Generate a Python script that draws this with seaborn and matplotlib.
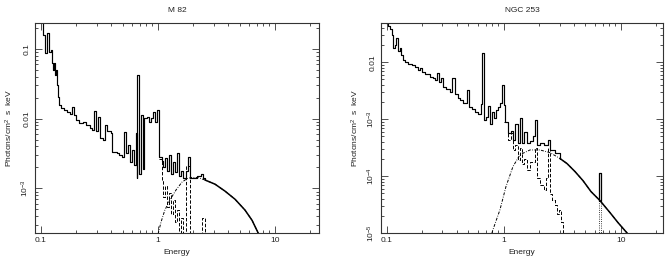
import numpy as np
import matplotlib
matplotlib.use('Agg')
import matplotlib.pyplot as plt
import seaborn as sns
from matplotlib.ticker import FixedLocator, FixedFormatter, LogLocator, NullFormatter

sns.set_style('ticks')
plt.rcParams['font.family'] = ['Liberation Sans', 'DejaVu Sans']
plt.rcParams['mathtext.default'] = 'regular'
plt.rcParams['font.size'] = 6

# ---- M 82 ----
m82_total_e = [0.088, 0.105, 0.109, 0.113, 0.118, 0.122, 0.125, 0.127, 0.130, 0.132,
               0.136, 0.139, 0.141, 0.143, 0.149, 0.158, 0.168, 0.178, 0.185, 0.193,
               0.200, 0.212, 0.230, 0.244, 0.264, 0.274, 0.286, 0.297, 0.309, 0.321,
               0.341, 0.353, 0.369, 0.399, 0.407, 0.449, 0.466, 0.495, 0.515, 0.536,
               0.557, 0.579, 0.602, 0.626, 0.646, 0.659, 0.668, 0.685, 0.713, 0.741,
               0.764, 0.810, 0.843, 0.877, 0.912, 0.948, 0.987, 1.026, 1.08, 1.11,
               1.15, 1.20, 1.25, 1.30, 1.35, 1.41, 1.46, 1.52, 1.58, 1.65,
               1.75, 1.82, 1.89, 2.17, 2.34, 2.44, 2.54]
m82_total_f = [0.25, 0.155, 0.0857, 0.166, 0.0885, 0.0946, 0.0617, 0.049, 0.0617, 0.0415,
               0.049, 0.0299, 0.0201, 0.0155, 0.014, 0.0131, 0.0123, 0.0115, 0.0145, 0.0111,
               0.0095, 0.0087, 0.0090, 0.0080, 0.0073, 0.0068, 0.0130, 0.0066, 0.0104, 0.0052,
               0.0049, 0.0080, 0.0066, 0.0062, 0.0033, 0.0032, 0.0030, 0.0028, 0.0064, 0.0032,
               0.0042, 0.0024, 0.0035, 0.0022, 0.0062, 0.0014, 0.042, 0.0016, 0.0111, 0.0019,
               0.0101, 0.0104, 0.0089, 0.0101, 0.0123, 0.0089, 0.0131, 0.0028, 0.0025, 0.0020,
               0.0027, 0.0018, 0.0030, 0.0016, 0.0024, 0.0017, 0.0032, 0.0015, 0.0018, 0.0014,
               0.0018, 0.0028, 0.0014, 0.0015, 0.0016, 0.0014, 0.00132]

m82_cont_e = [0.985, 1.01, 1.067, 1.15, 1.27, 1.43, 1.61, 1.78, 1.96, 2.21, 2.54,
              3.09, 3.76, 4.58, 5.57, 6.40, 7.24, 7.79]
m82_cont_f = [1.8e-4, 2.28e-4, 3.3e-4, 4.9e-4, 6.8e-4, 9.46e-4, 1.23e-3, 1.38e-3, 1.44e-3,
              1.43e-3, 1.32e-3, 1.15e-3, 9.15e-4, 7.0e-4, 4.9e-4, 3.5e-4, 2.28e-4, 1.7e-4]

m82_therm_e = [1.026, 1.08, 1.11, 1.15, 1.20, 1.25, 1.30, 1.35, 1.41, 1.46, 1.52, 1.58,
               1.65, 1.75, 1.89, 2.39, 2.54]
m82_therm_f = [0.0026, 0.00127, 0.00076, 0.00108, 0.00055, 0.00086, 0.00043, 0.00068,
               0.00033, 0.00049, 0.00018, 0.00038, 0.00018, 0.0021, 0.00018, 0.00038, 0.00018]

# ---- NGC 253 ----
ngc_total_e = [0.088, 0.0986, 0.1026, 0.1067, 0.110, 0.113, 0.118, 0.121, 0.125, 0.130,
               0.132, 0.138, 0.143, 0.152, 0.164, 0.175, 0.185, 0.193, 0.200, 0.213,
               0.235, 0.249, 0.259, 0.269, 0.280, 0.291, 0.303, 0.321, 0.348, 0.362,
               0.384, 0.407, 0.423, 0.449, 0.486, 0.505, 0.536, 0.569, 0.603, 0.640,
               0.659, 0.679, 0.706, 0.735, 0.764, 0.794, 0.826, 0.859, 0.893, 0.930,
               0.967, 1.006, 1.026, 1.09, 1.15, 1.20, 1.25, 1.32, 1.38, 1.43,
               1.49, 1.58, 1.68, 1.78, 1.85, 1.93, 2.04, 2.21, 2.39, 2.49,
               2.74, 3.03]
ngc_total_f = [0.06, 0.0497, 0.044, 0.039, 0.0306, 0.0181, 0.0205, 0.0271, 0.0160, 0.0181,
               0.0137, 0.0111, 0.0103, 0.0095, 0.0091, 0.0084, 0.00745, 0.0081, 0.00687, 0.00634,
               0.00561, 0.00539, 0.00497, 0.0066, 0.00458, 0.00539, 0.00375, 0.00346, 0.00306, 0.00539,
               0.00282, 0.0024, 0.00222, 0.00196, 0.00332, 0.00167, 0.00154, 0.00136, 0.00126, 0.00189,
               0.0148, 0.00099, 0.00111, 0.00174, 0.00084, 0.00136, 0.00107, 0.00148, 0.00167, 0.00196,
               0.00406, 0.00181, 0.00088, 0.00058, 0.00063, 0.00044, 0.00084, 0.00039, 0.00107, 0.00039,
               0.00061, 0.00039, 0.00042, 0.00050, 0.00099, 0.00036, 0.00039, 0.00035, 0.00044, 0.00029,
               0.00026, 0.000205]

ngc_cont_e = [0.764, 0.810, 0.930, 1.046, 1.20, 1.38, 1.68, 2.04, 2.49, 3.03, 3.48,
              4.07, 4.76, 5.57, 6.65, 8.11, 9.48, 11.25, 12.5]
ngc_cont_f = [7.8e-6, 1.16e-5, 2.6e-5, 6.6e-5, 1.48e-4, 2.4e-4, 2.9e-4, 2.9e-4, 2.6e-4,
              2.05e-4, 1.67e-4, 1.21e-4, 8.4e-5, 5.4e-5, 3.75e-5, 2.3e-5, 1.54e-5, 1.03e-5, 7.8e-6]

ngc_therm_e = [1.006, 1.09, 1.15, 1.20, 1.25, 1.32, 1.38, 1.43, 1.49, 1.58, 1.68, 1.85,
               1.93, 2.04, 2.21, 2.30, 2.39, 2.49, 2.59, 2.74, 2.85, 2.97, 3.09, 3.21]
ngc_therm_f = [0.0009, 0.00044, 0.00058, 0.00029, 0.00035, 0.000196, 0.00032, 0.000167,
               0.000205, 0.00013, 0.00018, 0.00032, 0.000095, 7.1e-5, 5.8e-5, 9.5e-5,
               0.00032, 4.8e-5, 3.9e-5, 3.2e-5, 2.2e-5, 2.6e-5, 1.6e-5, 7.8e-6]

# iron line at 6.7 keV
ngc_fe_e = [6.55, 6.55, 6.85, 6.85]
ngc_fe_total = [3.7e-5, 1.16e-4, 1.16e-4, 3.7e-5]
ngc_fe_comp = [5e-6, 3.7e-5, 3.7e-5, 5e-6]

line_kw = dict(estimator=None, sort=False, legend=False, color='black')
dashdot = (0, (3, 1.5, 0.8, 1.5))
dashed = (0, (3.5, 1.8))


def style_axes(ax, xlim, ylim, yticks, ylabels, title):
    ax.set_xscale('log')
    ax.set_yscale('log')
    ax.set_xlim(*xlim)
    ax.set_ylim(*ylim)
    ax.xaxis.set_major_locator(FixedLocator([0.1, 1, 10]))
    ax.xaxis.set_major_formatter(FixedFormatter(['0.1', '1', '10']))
    ax.xaxis.set_minor_locator(LogLocator(base=10, subs=np.arange(2, 10), numticks=20))
    ax.xaxis.set_minor_formatter(NullFormatter())
    ax.yaxis.set_major_locator(FixedLocator(yticks))
    ax.yaxis.set_major_formatter(FixedFormatter(ylabels))
    ax.yaxis.set_minor_locator(LogLocator(base=10, subs=np.arange(2, 10), numticks=20))
    ax.yaxis.set_minor_formatter(NullFormatter())
    ax.tick_params(which='both', direction='in', top=True, right=True,
                   width=0.6, color='#333333', labelsize=6, labelcolor='#222222')
    ax.tick_params(which='major', length=5)
    ax.tick_params(which='minor', length=2.5)
    ax.tick_params(axis='x', pad=3)
    ax.tick_params(axis='y', labelrotation=90, pad=3)
    for lab in ax.get_yticklabels():
        lab.set_va('center')
    for sp in ax.spines.values():
        sp.set_linewidth(0.8)
        sp.set_color('#333333')
    ax.set_xlabel('Energy', fontsize=6, labelpad=3, color='#222222')
    ax.set_ylabel('Photons/cm$^2$  s  keV', fontsize=6, labelpad=3, color='#222222')
    ax.set_title(title, fontsize=6, pad=8, color='#222222')


fig = plt.figure(figsize=(6.66, 2.6), dpi=100)
ax1 = fig.add_axes([0.0526, 0.1027, 0.4264, 0.807])
ax2 = fig.add_axes([0.5716, 0.1027, 0.4246, 0.807])

style_axes(ax1, (0.0894, 23.9), (2.28e-4, 0.23), [1e-3, 0.01, 0.1],
           ['10$^{-3}$', '0.01', '0.1'], 'M 82')
style_axes(ax2, (0.0889, 23.2), (1e-5, 0.048), [1e-5, 1e-4, 1e-3, 0.01],
           ['10$^{-5}$', '10$^{-4}$', '10$^{-3}$', '0.01'], 'NGC 253')

# M 82 panel
sns.lineplot(x=m82_cont_e, y=m82_cont_f, ax=ax1, lw=0.7, linestyle=dashdot, **line_kw)
sns.lineplot(x=m82_therm_e, y=m82_therm_f, ax=ax1, lw=0.7, linestyle=dashed,
             drawstyle='steps-post', **line_kw)
sns.lineplot(x=m82_total_e, y=m82_total_f, ax=ax1, lw=0.85, drawstyle='steps-post', **line_kw)
tail1 = [(e, f) for e, f in zip(m82_cont_e, m82_cont_f) if e >= 2.54]
sns.lineplot(x=[t[0] for t in tail1], y=[t[1] for t in tail1], ax=ax1, lw=1.1, **line_kw)

# NGC 253 panel
sns.lineplot(x=ngc_cont_e, y=ngc_cont_f, ax=ax2, lw=0.7, linestyle=dashdot, **line_kw)
sns.lineplot(x=ngc_therm_e, y=ngc_therm_f, ax=ax2, lw=0.7, linestyle=dashed,
             drawstyle='steps-post', **line_kw)
sns.lineplot(x=ngc_fe_e, y=ngc_fe_comp, ax=ax2, lw=0.6, linestyle=':', **line_kw)
sns.lineplot(x=ngc_total_e, y=ngc_total_f, ax=ax2, lw=0.85, drawstyle='steps-post', **line_kw)
tail2 = [(e, f) for e, f in zip(ngc_cont_e, ngc_cont_f) if e >= 3.03]
sns.lineplot(x=[t[0] for t in tail2], y=[t[1] for t in tail2], ax=ax2, lw=1.1, **line_kw)
sns.lineplot(x=ngc_fe_e, y=ngc_fe_total, ax=ax2, lw=0.9, **line_kw)

fig.savefig('out.png', dpi=100)
